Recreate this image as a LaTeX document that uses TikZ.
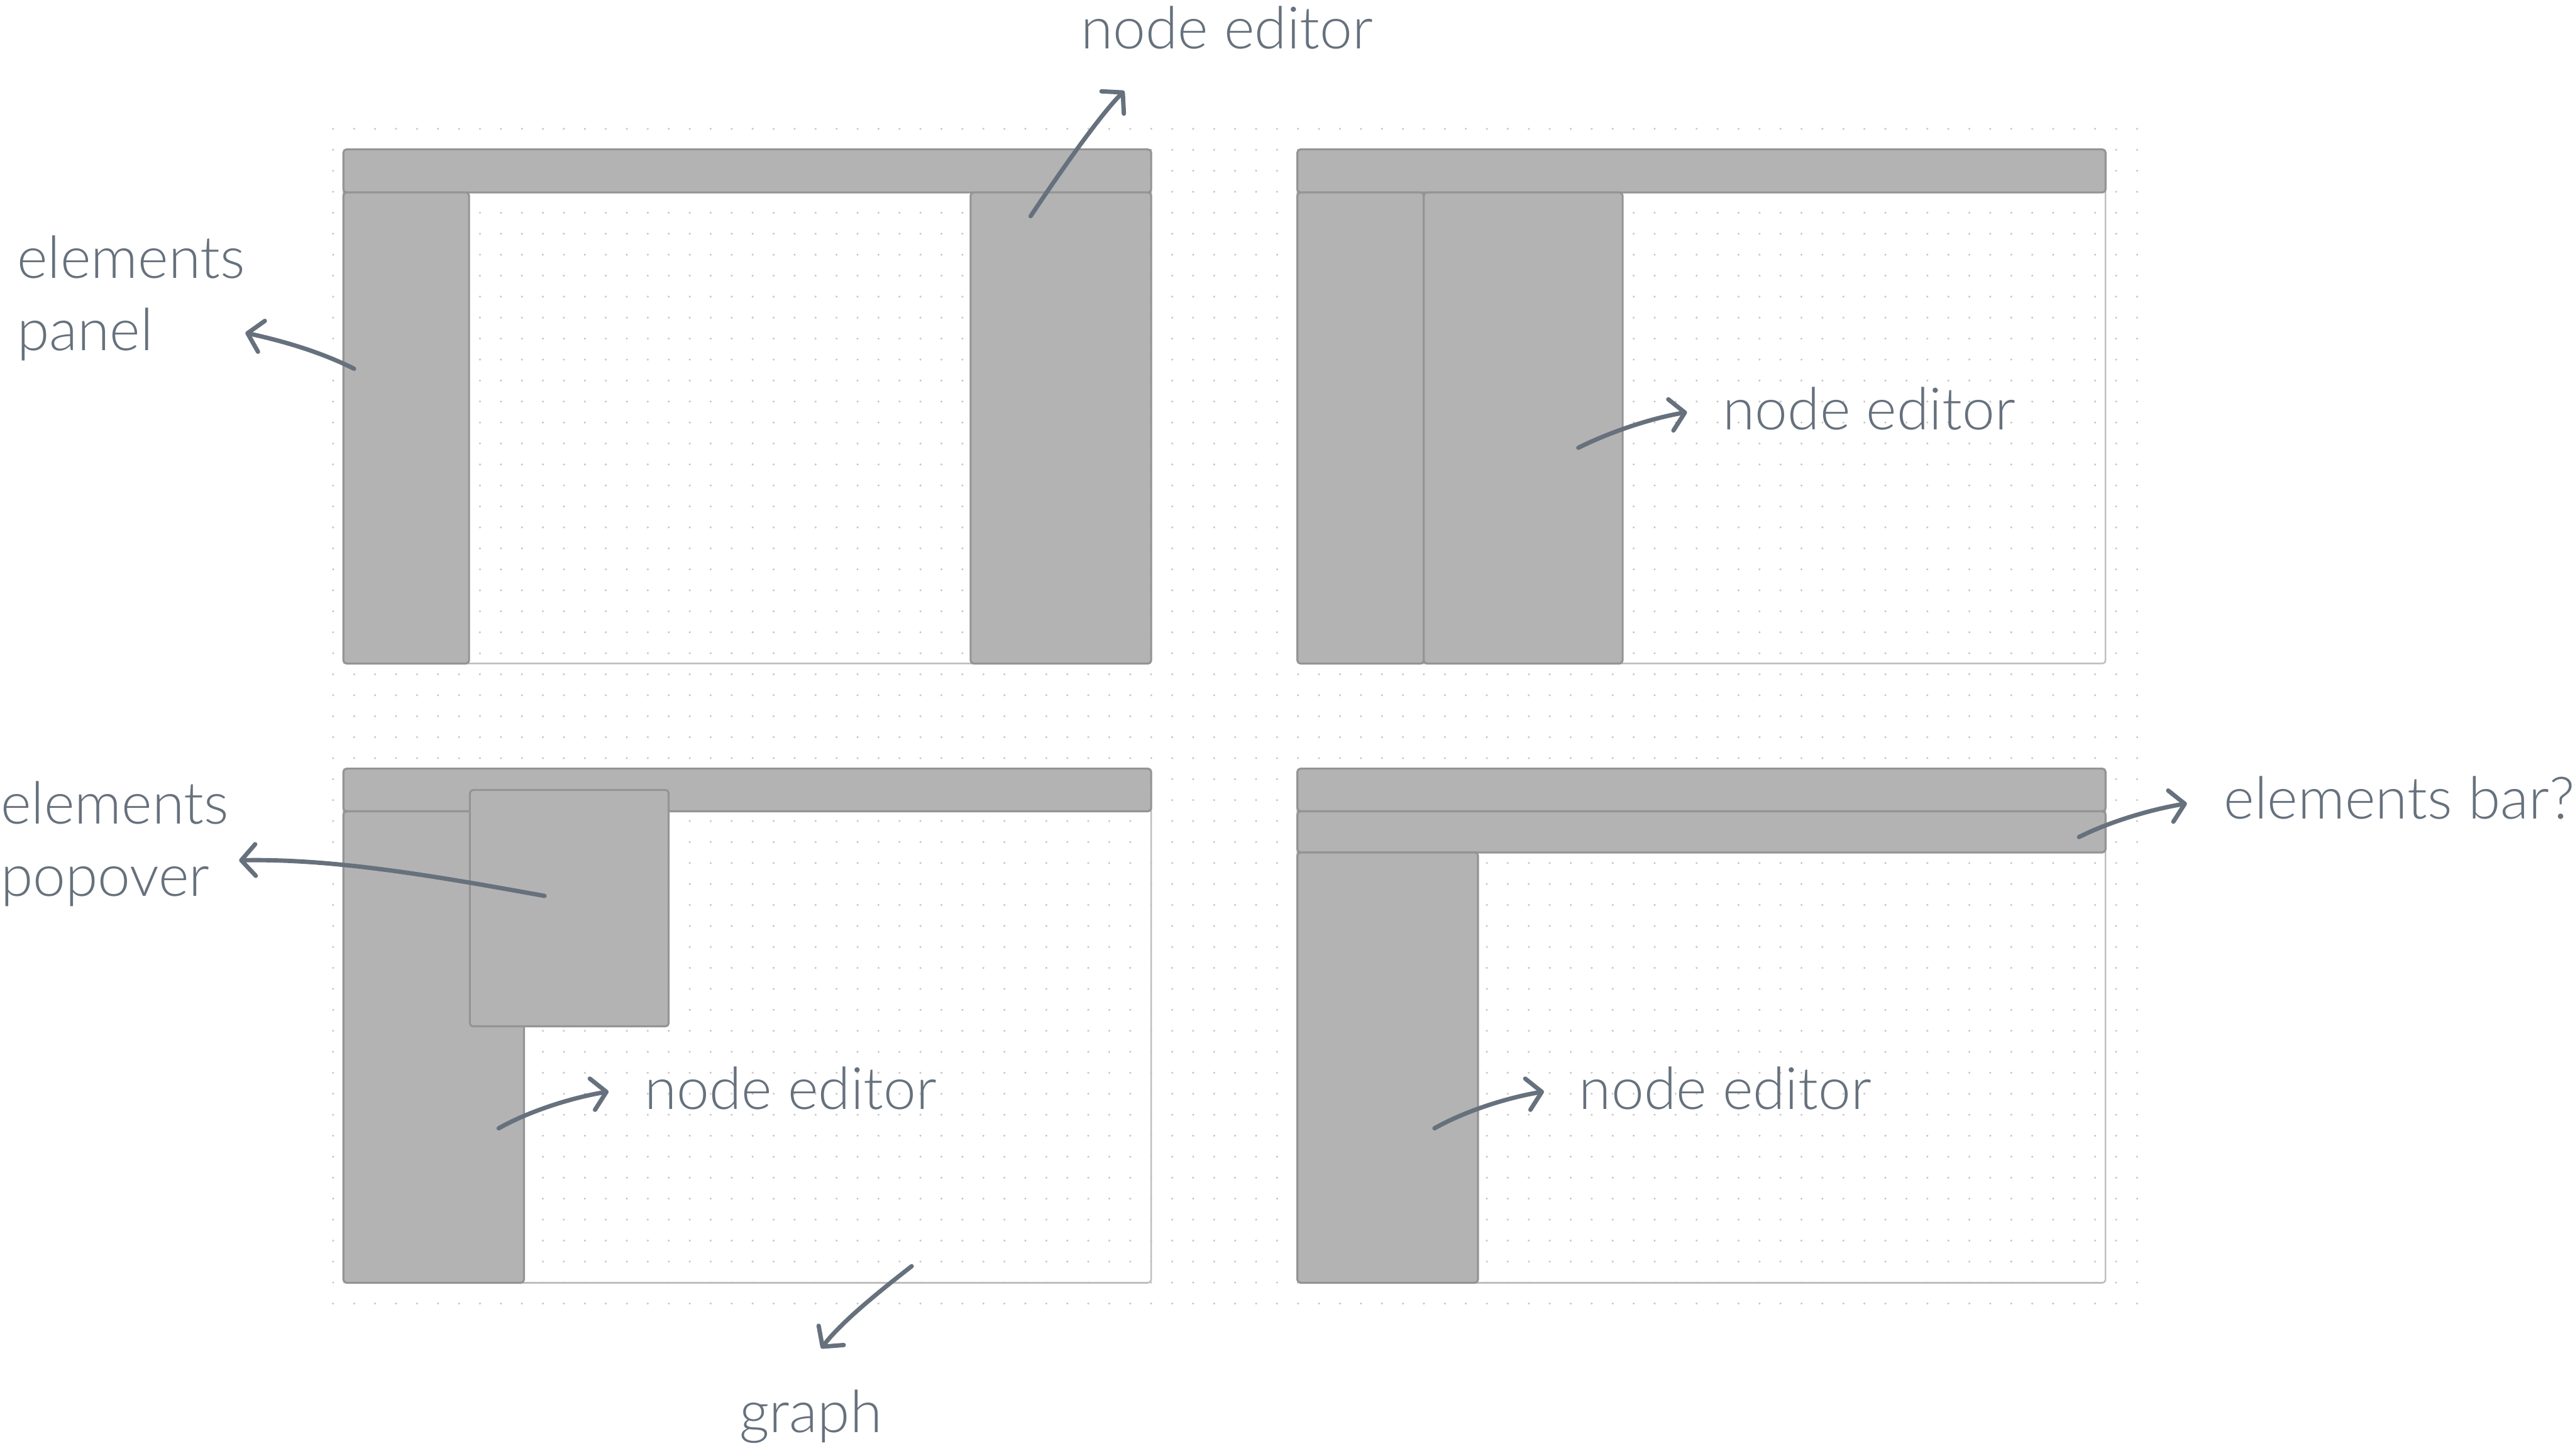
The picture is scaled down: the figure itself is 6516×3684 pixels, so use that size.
\documentclass[tikz,border=0pt]{standalone}
\usepackage{fontspec}
\IfFontExistsTF{Lato Light}{\setmainfont{Lato Light}}{\setmainfont{Lato}}
\usetikzlibrary{arrows.meta}

\definecolor{ink}{RGB}{102,113,125}
\definecolor{panelgray}{RGB}{179,179,179}
\definecolor{edgegray}{RGB}{148,148,148}
\definecolor{framegray}{RGB}{190,190,190}
\definecolor{dotgray}{RGB}{198,198,198}

\begin{document}
\begin{tikzpicture}[x=0.1pt, y=-0.1pt,
		panelfill/.style={fill=panelgray, draw=edgegray, line width=0.5pt, rounded corners=0.8pt},
		frame/.style={draw=framegray, line width=0.4pt, rounded corners=0.8pt},
		callout/.style={draw=ink, line width=1.1pt, line cap=round, -{Straight Barb[length=3.6pt, width=8pt, round]}},
		note/.style={text=ink, font=\fontsize{14.8pt}{18.3pt}\selectfont, inner sep=0pt, anchor=base west, align=left}]
	\useasboundingbox (0,0) rectangle (6516,3684);
	\fill[white] (0,0) rectangle (6516,3684);

	% dot grid
	\foreach \i in {0,...,86}
		\foreach \j in {0,...,56}
			\fill[dotgray] ({843+53.08*\i},{326+53.08*\j}) circle (0.28pt);

	% top left: elements panel + node editor
	\draw[frame] (869,378) rectangle (2913,1679);
	\draw[panelfill] (869,378) rectangle (2913,487);
	\draw[panelfill] (869,487) rectangle (1187,1679);
	\draw[panelfill] (2456,487) rectangle (2913,1679);

	% top right: elements panel + node editor side by side
	\draw[frame] (3283,378) rectangle (5328,1679);
	\draw[panelfill] (3283,378) rectangle (5328,487);
	\draw[panelfill] (3283,487) rectangle (3603,1679);
	\draw[panelfill] (3603,487) rectangle (4106,1679);

	% bottom left: popover over node editor
	\draw[frame] (869,1945) rectangle (2913,3246);
	\draw[panelfill] (869,1945) rectangle (2913,2053);
	\draw[panelfill] (869,2053) rectangle (1326,3246);
	\draw[panelfill] (1189,1999) rectangle (1692,2597);

	% bottom right: elements bar
	\draw[frame] (3283,1945) rectangle (5328,3246);
	\draw[panelfill] (3283,1945) rectangle (5328,2053);
	\draw[panelfill] (3283,2053) rectangle (5328,2157);
	\draw[panelfill] (3283,2157) rectangle (3740,3246);

	% labels (two-line ones sit on their last baseline)
	\node[note] (ne1) at (2733,123) {node editor};
	\node[note] (elpanel) at (41,887) {elements\\panel};
	\node[note] (ne2) at (4358,1088) {node editor};
	\node[note] (elpop) at (0,2267) {elements\\popover};
	\node[note] (ne3) at (1629,2807) {node editor};
	\node[note] (ne4) at (3994,2807) {node editor};
	\node[note] (elbar) at (5626,2072) {elements bar?};
	\node[note] (graph) at (1869,3624) {graph};

	% arrow ends
	\coordinate (ne1-from) at (2608,547);
	\coordinate (ne1-to) at (2845,230);
	\coordinate (elpanel-from) at (896,933);
	\coordinate (elpanel-to) at (621,842);
	\coordinate (ne2-from) at (3994,1133);
	\coordinate (ne2-to) at (4269,1043);
	\coordinate (elpop-from) at (1378,2267);
	\coordinate (elpop-to) at (605,2177);
	\coordinate (ne3-from) at (1262,2855);
	\coordinate (ne3-to) at (1540,2762);
	\coordinate (ne4-from) at (3630,2855);
	\coordinate (ne4-to) at (3907,2762);
	\coordinate (elbar-from) at (5261,2118);
	\coordinate (elbar-to) at (5534,2033);
	\coordinate (graph-from) at (2307,3204);
	\coordinate (graph-to) at (2078,3412);

	\draw[callout] (ne1-from) .. controls +(50,-75) and +(-70,70) .. (ne1-to);
	\draw[callout] (elpanel-from) .. controls +(-90,-45) and +(90,20) .. (elpanel-to);
	\draw[callout] (ne2-from) .. controls +(80,-40) and +(-90,15) .. (ne2-to);
	\draw[callout] (elpop-from) .. controls +(-250,-45) and +(250,-5) .. (elpop-to);
	\draw[callout] (ne3-from) .. controls +(80,-45) and +(-90,15) .. (ne3-to);
	\draw[callout] (ne4-from) .. controls +(80,-45) and +(-90,15) .. (ne4-to);
	\draw[callout] (elbar-from) .. controls +(80,-40) and +(-90,15) .. (elbar-to);
	\draw[callout] (graph-from) .. controls +(-90,70) and +(50,-65) .. (graph-to);
\end{tikzpicture}
\end{document}
